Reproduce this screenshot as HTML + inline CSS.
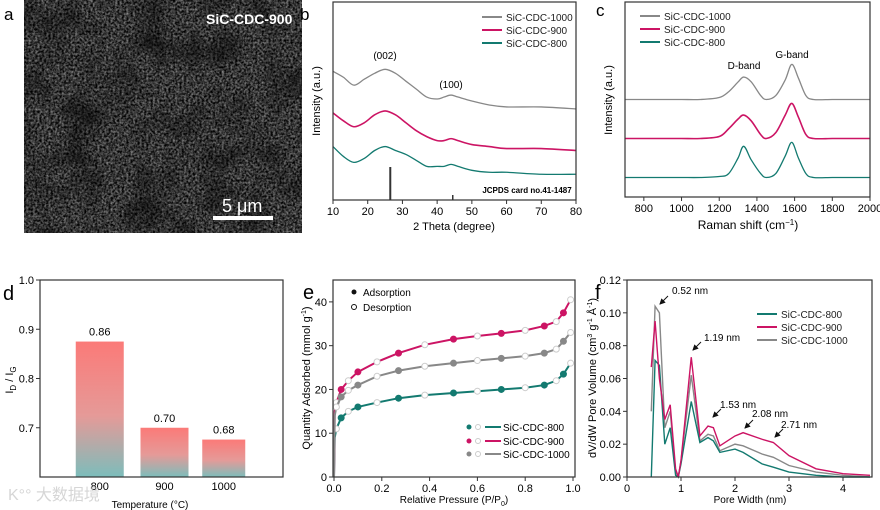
<!DOCTYPE html>
<html><head><meta charset="utf-8">
<style>
html,body{margin:0;padding:0;background:#fff;}
svg{display:block;font-family:"Liberation Sans","Noto Sans CJK SC",sans-serif;}
</style></head>
<body>
<svg id="fig" width="880" height="510" viewBox="0 0 880 510" xmlns="http://www.w3.org/2000/svg">
<defs>
<filter id="sem" x="0" y="0" width="100%" height="100%">
<feTurbulence type="fractalNoise" baseFrequency="0.45" numOctaves="3" seed="4"/>
<feColorMatrix type="matrix" values="0 0 0 0 0  0 0 0 0 0  0 0 0 0 0  0 0 0 -1.6 1.4"/>
</filter>
<filter id="sem2" x="0" y="0" width="100%" height="100%">
<feTurbulence type="fractalNoise" baseFrequency="0.03" numOctaves="2" seed="9"/>
<feColorMatrix type="matrix" values="0 0 0 0 0  0 0 0 0 0  0 0 0 0 0  0 0 0 -1.2 0.7"/>
</filter>
<linearGradient id="barGrad" x1="0" y1="0" x2="0" y2="1">
<stop offset="0" stop-color="#fb7a78"/><stop offset="0.55" stop-color="#e59a98"/><stop offset="1" stop-color="#7cbdbb"/>
</linearGradient>
<marker id="arr" markerWidth="6" markerHeight="6" refX="5" refY="3" orient="auto"><path d="M0,0 L6,3 L0,6 z" fill="#111"/></marker>
</defs>
<g>
<rect x="24" y="0" width="278" height="233" fill="#8a8a8a"/>
<rect x="24" y="0" width="278" height="233" filter="url(#sem)"/>
<rect x="24" y="0" width="278" height="233" filter="url(#sem2)"/>
<text x="206" y="24" fill="#fff" font-size="14" font-weight="bold">SiC-CDC-900</text>
<rect x="213" y="216" width="60" height="4" fill="#fff"/>
<text x="222" y="212" fill="#fff" font-size="18">5 μm</text>
</g>
<text x="4" y="20" font-size="17">a</text>
<text x="300" y="20" font-size="17">b</text>
<text x="596" y="16" font-size="17">c</text>
<text x="3" y="300" font-size="20">d</text>
<text x="303" y="299" font-size="20">e</text>
<text x="595" y="299" font-size="20">f</text>
<g id="gb"></g><g id="gc"></g><g id="gd"></g><g id="ge"></g><g id="gf"></g>
<text x="8" y="500" font-size="16" fill="#ccc" opacity="0.8">K°° 大数据境</text>
</svg>
<script>
// ---------- data ----------
const xrdX = [10,13,16,19,22,25,28,31,34,37,40,42,44,46,50,55,60,70,80];
const xrd1000 = [65,62,58,61,64,66,64,60,56,52,51,52,53,52,50,48,47,47,46];
const xrd900 = [44,40,37,39,43,45,43,39,35,32,30,30,31,30,28,27,26,26,25];
const xrd800 = [27,22,19,21,25,27,25,23,20,17,17,17,18,17,15,14,14,13,13];
const ramX = [700,800,900,1000,1100,1200,1250,1300,1330,1370,1420,1450,1500,1550,1585,1620,1660,1700,1800,1900,2000];
const ram1000 = [50,50,50,50,50,51,54,59,61.5,59,52,50,52,60,68,61,52,50,50,50,50];
const ram900 = [30,30,30,30,30,31,35,40,42,39,32,30,33,42,48,41,32,30,30,30,30];
const ram800 = [10,10,10,10,10,10.5,12,20,26,19,12,10,12,21,28,20,12,10,10,10,10];
const barCats = ["800","900","1000"];
const barVals = [0.875,0.70,0.676];
const barLabels = ["0.86","0.70","0.68"];
const isoP = [0,0.003,0.01,0.03,0.06,0.1,0.18,0.27,0.38,0.5,0.6,0.7,0.8,0.88,0.93,0.96,0.99];
const iso800 = [0,9,11,13.5,15,16,17,18,18.7,19.2,19.6,20,20.4,21,22,23.5,26];
const iso900 = [0,15,17,20,22,24,26.3,28.3,30.2,31.5,32.2,32.8,33.5,34.5,35.5,37.5,40.5];
const iso1000 = [0,14,16,18.3,19.8,21,23,24.3,25.3,26,26.6,27.1,27.6,28.3,29.2,31,33];
const psdX = [0.45,0.52,0.6,0.7,0.8,0.9,0.95,1.0,1.19,1.35,1.5,1.6,1.72,2.0,2.15,2.5,2.71,3.0,3.5,4.0,4.5];
const psd800 = [0,0.071,0.068,0.02,0.03,0.001,0,0.008,0.046,0.021,0.024,0.022,0.015,0.017,0.015,0.008,0.006,0.003,0.001,0,0];
const psd900 = [0.067,0.095,0.06,0.035,0.044,0.005,0,0.01,0.073,0.025,0.031,0.030,0.019,0.025,0.027,0.023,0.021,0.013,0.005,0.002,0.001];
const psd1000 = [0.04,0.104,0.1,0.03,0.04,0.003,0,0.01,0.062,0.022,0.026,0.025,0.016,0.020,0.019,0.014,0.012,0.007,0.003,0.001,0];
const xrdTicks = [10,20,30,40,50,60,70,80];
const ramTicks = [800,1000,1200,1400,1600,1800,2000];
const dTicks = [0.7,0.8,0.9,1.0];
const eXTicks = [0,0.2,0.4,0.6,0.8,1.0];
const eYTicks = [0,10,20,30,40];
const fXTicks = [0,1,2,3,4];
const fYTicks = [0,0.02,0.04,0.06,0.08,0.10,0.12];

const NS="http://www.w3.org/2000/svg";
const TEAL="#137a70", MAG="#cc1464", GRAY="#888";
function mk(parent,tag,attrs,txt){const e=document.createElementNS(NS,tag);for(const k in attrs)e.setAttribute(k,attrs[k]);if(txt!==undefined)e.textContent=txt;parent.appendChild(e);return e;}
function smooth(pts){let d="M"+pts[0][0]+","+pts[0][1];for(let i=0;i<pts.length-1;i++){const p0=pts[Math.max(i-1,0)],p1=pts[i],p2=pts[i+1],p3=pts[Math.min(i+2,pts.length-1)];const c1x=p1[0]+(p2[0]-p0[0])/6,c1y=p1[1]+(p2[1]-p0[1])/6,c2x=p2[0]-(p3[0]-p1[0])/6,c2y=p2[1]-(p3[1]-p1[1])/6;d+=" C"+c1x+","+c1y+" "+c2x+","+c2y+" "+p2[0]+","+p2[1];}return d;}
function frame(g,x0,y0,x1,y1,name){const r=mk(g,"rect",{x:x0,y:y0,width:x1-x0,height:y1-y0,fill:"none",stroke:"#333","stroke-width":1.2});

}
function xticks(g,ticks,sx,y,fmt,name){ticks.forEach(t=>{mk(g,"line",{x1:sx(t),x2:sx(t),y1:y,y2:y+4,stroke:"#333"});const e=mk(g,"text",{x:sx(t),y:y+15,"font-size":11,"text-anchor":"middle"},fmt(t));

});}
function yticks(g,ticks,sy,x,fmt,name){ticks.forEach(t=>{mk(g,"line",{x1:x-4,x2:x,y1:sy(t),y2:sy(t),stroke:"#333"});const e=mk(g,"text",{x:x-6,y:sy(t)+4,"font-size":11,"text-anchor":"end"},fmt(t));

});}
function label(g,x,y,txt,name,opt){const a=Object.assign({x:x,y:y,"font-size":11,"text-anchor":"middle"},opt||{});const e=mk(g,"text",a);e.innerHTML=txt;

return e;}
function ylabel(g,x,y,txt,name){return label(g,0,0,txt,name,{transform:`translate(${x},${y}) rotate(-90)`});}
function curve(g,xs,ys,sx,sy,color,name,w){const p=mk(g,"path",{d:smooth(xs.map((v,i)=>[sx(v),sy(ys[i])])),fill:"none",stroke:color,"stroke-width":w||1.3});

return p;}
function poly(g,xs,ys,sx,sy,color,name){const p=mk(g,"polyline",{points:xs.map((v,i)=>sx(v)+","+sy(ys[i])).join(" "),fill:"none",stroke:color,"stroke-width":1.4});

return p;}
function legendLine(g,x,y,color,txt,name){mk(g,"line",{x1:x,x2:x+20,y1:y,y2:y,stroke:color,"stroke-width":2});const e=mk(g,"text",{x:x+24,y:y+4,"font-size":10,fill:"#222"},txt);

}

(function(){const g=document.getElementById("gb");
const X0=333,X1=576,Y0=2,Y1=200;
const sx=v=>X0+(v-10)/70*(X1-X0), sy=v=>Y1-v/100*(Y1-Y0);
curve(g,xrdX,xrd1000,sx,sy,GRAY,"xrd-1000-curve");
curve(g,xrdX,xrd900,sx,sy,MAG,"xrd-900-curve",1.6);
curve(g,xrdX,xrd800,sx,sy,TEAL,"xrd-800-curve");
mk(g,"line",{x1:sx(26.5),x2:sx(26.5),y1:167,y2:Y1,stroke:"#333","stroke-width":2});
mk(g,"line",{x1:sx(44.5),x2:sx(44.5),y1:195,y2:Y1,stroke:"#333","stroke-width":1.5});
label(g,527,193,"JCPDS card no.41-1487","jcpds-label",{"font-size":8,"font-weight":"bold"});
label(g,385,59,"(002)","peak-002-label",{"font-size":10});
label(g,451,88,"(100)","peak-100-label",{"font-size":10});
frame(g,X0,Y0,X1,Y1,"xrd-plot-frame");
xticks(g,xrdTicks,sx,Y1,t=>t,"xrd-x-tick");
label(g,454,230,"2 Theta (degree)","xrd-x-axis-title");
ylabel(g,320,101,"Intensity (a.u.)","xrd-y-axis-title");
legendLine(g,482,17,GRAY,"SiC-CDC-1000","legend-1000");
legendLine(g,482,30,MAG,"SiC-CDC-900","legend-900");
legendLine(g,482,43,TEAL,"SiC-CDC-800","legend-800");
})();

(function(){const g=document.getElementById("gc");
const X0=625,X1=870,Y0=2,Y1=197;
const sx=v=>X0+(v-700)/1300*(X1-X0), sy=v=>Y1-v/100*(Y1-Y0);
curve(g,ramX,ram1000,sx,sy,GRAY,"raman-1000-curve");
curve(g,ramX,ram900,sx,sy,MAG,"raman-900-curve",1.6);
curve(g,ramX,ram800,sx,sy,TEAL,"raman-800-curve");
label(g,744,69,"D-band","d-band-label",{"font-size":10});
label(g,792,58,"G-band","g-band-label",{"font-size":10});
frame(g,X0,Y0,X1,Y1,"raman-plot-frame");
xticks(g,ramTicks,sx,Y1,t=>t,"raman-x-tick");
label(g,748,229,"Raman shift (cm<tspan font-size='8' dy='-4'>−1</tspan><tspan dy='4'>)</tspan>","raman-x-axis-title",{"font-size":12});
ylabel(g,612,100,"Intensity (a.u.)","raman-y-axis-title");
legendLine(g,640,16,GRAY,"SiC-CDC-1000","legend-1000");
legendLine(g,640,29,MAG,"SiC-CDC-900","legend-900");
legendLine(g,640,42,TEAL,"SiC-CDC-800","legend-800");
})();

(function(){const g=document.getElementById("gd");
const X0=40,X1=283,Y0=280,Y1=477;
const sy=v=>Y1-(v-0.6)/0.4*(Y1-Y0);
const cx=i=>X0+(i+1)*(X1-X0)/4-((i===0)?25:(i===1)?21:20);
const bw=[48,48,43];
barCats.forEach((c,i)=>{const x=cx(i);const r=mk(g,"rect",{x:x,y:sy(barVals[i]),width:bw[i],height:Y1-sy(barVals[i]),fill:"url(#barGrad)"});


label(g,x+bw[i]/2,sy(barVals[i])-6,barLabels[i],"bar-value-"+c,{"font-size":11});
label(g,x+bw[i]/2,490,c,"d-x-tick",{"font-size":11});});
frame(g,X0,Y0,X1,Y1,"d-plot-frame");
yticks(g,dTicks,sy,X0,t=>t.toFixed(1),"d-y-tick");
label(g,150,508,"Temperature (°C)","d-x-axis-title",{"font-size":10});
ylabel(g,13,380,"I<tspan font-size='8' dy='3'>D</tspan><tspan dy='-3'> / I</tspan><tspan font-size='8' dy='3'>G</tspan>","d-y-axis-title");
})();

(function(){const g=document.getElementById("ge");
const X0=333,X1=575,Y0=280,Y1=477;
const sx=v=>334+v*(573-334), sy=v=>Y1-v/45*(Y1-Y0);
[[iso800,TEAL,"800"],[iso900,MAG,"900"],[iso1000,GRAY,"1000"]].forEach(([ys,col,n])=>{
const p=poly(g,isoP,ys,sx,sy,col,"isotherm-"+n+"-line");p.setAttribute("stroke-width","2");
isoP.forEach((v,i)=>{if(i<2)return;const c=mk(g,"circle",{cx:sx(v),cy:sy(ys[i]),r:3,fill:(i%2?col:"#fff"),stroke:(i%2?col:"#ccc"),"stroke-width":1});

});});
frame(g,X0,Y0,X1,Y1,"e-plot-frame");
xticks(g,eXTicks,sx,Y1,t=>t.toFixed(1),"e-x-tick");
yticks(g,eYTicks,sy,X0,t=>t,"e-y-tick");
label(g,454,503,"Relative Pressure (P/P<tspan font-size='7' dy='3'>0</tspan><tspan dy='-3'>)</tspan>","e-x-axis-title",{"font-size":10});
ylabel(g,310,378,"Quantity Adsorbed (mmol g<tspan font-size='7' dy='-4'>-1</tspan><tspan dy='4'>)</tspan>","e-y-axis-title");
mk(g,"circle",{cx:354,cy:292,r:2.5,fill:"#111"});label(g,363,296,"Adsorption","legend-adsorption",{"text-anchor":"start","font-size":10});
mk(g,"circle",{cx:354,cy:307,r:2.5,fill:"#fff",stroke:"#111"});label(g,363,311,"Desorption","legend-desorption",{"text-anchor":"start","font-size":10});
[[TEAL,"SiC-CDC-800",427],[MAG,"SiC-CDC-900",441],[GRAY,"SiC-CDC-1000",454]].forEach(([c,t,y])=>{mk(g,"circle",{cx:469,cy:y,r:2.5,fill:c});mk(g,"circle",{cx:478,cy:y,r:2.5,fill:"#fff",stroke:"#ccc"});
mk(g,"line",{x1:485,x2:501,y1:y,y2:y,stroke:c,"stroke-width":2});label(g,503,y+4,t,"e-legend-entry",{"text-anchor":"start","font-size":10});});
})();

(function(){const g=document.getElementById("gf");
const X0=627,X1=872,Y0=280,Y1=477;
const sx=v=>X0+v*54, sy=v=>Y1-v/0.12*(Y1-Y0);
poly(g,psdX,psd1000,sx,sy,GRAY,"psd-1000-line");
poly(g,psdX,psd800,sx,sy,TEAL,"psd-800-line");
poly(g,psdX,psd900,sx,sy,MAG,"psd-900-line");
frame(g,X0,Y0,X1,Y1,"f-plot-frame");
xticks(g,fXTicks,sx,Y1,t=>t,"f-x-tick");
yticks(g,fYTicks,sy,X0,t=>t.toFixed(2),"f-y-tick");
label(g,750,503,"Pore Width (nm)","f-x-axis-title",{"font-size":10});
ylabel(g,596,378,"dV/dW  Pore Volume (cm<tspan font-size='7' dy='-4'>3</tspan><tspan dy='4'> g</tspan><tspan font-size='7' dy='-4'>-1</tspan><tspan dy='4'> Å</tspan><tspan font-size='7' dy='-4'>-1</tspan><tspan dy='4'>)</tspan>","f-y-axis-title");
[["0.52 nm",672,294,660,304],["1.19 nm",704,341,693,350],["1.53 nm",720,408,713,417],["2.08 nm",752,417,745,428],["2.71 nm",781,428,775,437]].forEach(([t,x,y,ax,ay])=>{
mk(g,"line",{x1:ax+8,y1:ay-8,x2:ax,y2:ay,stroke:"#111","stroke-width":1,"marker-end":"url(#arr)"});
label(g,x,y,t,"pore-annotation",{"text-anchor":"start","font-size":10});});
legendLine(g,757,314,TEAL,"SiC-CDC-800","f-legend-800");
legendLine(g,757,327,MAG,"SiC-CDC-900","f-legend-900");
legendLine(g,757,340,GRAY,"SiC-CDC-1000","f-legend-1000");
})();
</script>
</body></html>
